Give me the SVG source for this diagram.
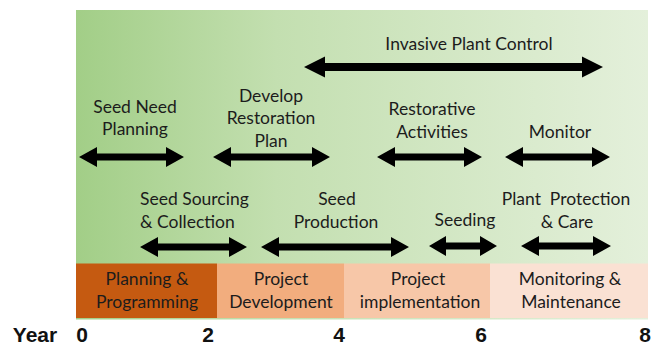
<svg xmlns="http://www.w3.org/2000/svg" width="652" height="347" viewBox="0 0 652 347">
<defs>
<linearGradient id="bg" x1="0" y1="0" x2="1" y2="0">
<stop offset="0" stop-color="#A2CE87"/>
<stop offset="0.35" stop-color="#C3DFB0"/>
<stop offset="1" stop-color="#E4F0DB"/>
</linearGradient>
<style>
.t{font-family:"Lato","Liberation Sans",sans-serif;font-size:17.5px;fill:#1c1c1c;text-anchor:middle}
.y{font-family:"Liberation Sans",Arial,sans-serif;font-size:21px;font-weight:bold;fill:#111;text-anchor:middle}
.a{fill:#000}
</style>
</defs>
<rect width="652" height="347" fill="#fff"/>
<rect id="background" x="76" y="10" width="572" height="309.5" fill="url(#bg)"/>

<g id="phases">
<g id="phase-planning"><rect x="76" y="263.5" width="141" height="54.5" fill="#C55A11"/>
<text class="t" x="147" y="285">Planning &amp;</text><text class="t" x="147" y="308">Programming</text></g>
<g id="phase-development"><rect x="217" y="263.5" width="127" height="54.5" fill="#F2AD7E"/>
<text class="t" x="281" y="285">Project</text><text class="t" x="281" y="308">Development</text></g>
<g id="phase-implementation"><rect x="344" y="263.5" width="146" height="54.5" fill="#F7C7A8"/>
<text class="t" x="418" y="285">Project</text><text class="t" x="420" y="308">implementation</text></g>
<g id="phase-monitoring"><rect x="490" y="263.5" width="158" height="54.5" fill="#FAE1D3"/>
<text class="t" x="570" y="285">Monitoring &amp;</text><text class="t" x="571" y="308">Maintenance</text></g>
</g>

<g id="invasive-plant-control">
<text class="t" x="469" y="50">Invasive Plant Control</text>
</g>
<g id="seed-need-planning">
<text class="t" x="135" y="113">Seed Need</text><text class="t" x="135" y="135">Planning</text>
</g>
<g id="develop-restoration-plan">
<text class="t" x="271" y="102">Develop</text><text class="t" x="271" y="124">Restoration</text><text class="t" x="271" y="147">Plan</text>
</g>
<g id="restorative-activities">
<text class="t" x="432" y="115">Restorative</text><text class="t" x="432" y="138">Activities</text>
</g>
<g id="monitor">
<text class="t" x="560" y="138">Monitor</text>
</g>
<g id="seed-sourcing">
<text class="t" x="140" y="205" style="text-anchor:start">Seed Sourcing</text><text class="t" x="140" y="228" style="text-anchor:start">&amp; Collection</text>
</g>
<g id="seed-production">
<text class="t" x="337" y="205">Seed</text><text class="t" x="336" y="228">Production</text>
</g>
<g id="seeding">
<text class="t" x="465" y="226">Seeding</text>
</g>
<g id="plant-protection">
<text class="t" x="566" y="205" xml:space="preserve">Plant  Protection</text><text class="t" x="567" y="228">&amp; Care</text>
</g>

<g id="connectors">
<path class="a" d="M304 67 L325 56.5 L325 63 L582 63 L582 56.5 L603 67 L582 77.5 L582 71 L325 71 L325 77.5 Z"/>
<path class="a" d="M79 157 L97 147 L97 153.5 L166 153.5 L166 147 L184 157 L166 167 L166 160.5 L97 160.5 L97 167 Z"/>
<path class="a" d="M213 157 L231 147 L231 153.5 L312 153.5 L312 147 L330 157 L312 167 L312 160.5 L231 160.5 L231 167 Z"/>
<path class="a" d="M377 157 L395 147 L395 153.5 L464 153.5 L464 147 L482 157 L464 167 L464 160.5 L395 160.5 L395 167 Z"/>
<path class="a" d="M505 157 L523 147 L523 153.5 L592 153.5 L592 147 L610 157 L592 167 L592 160.5 L523 160.5 L523 167 Z"/>
<path class="a" d="M140 247 L158 237 L158 243.5 L229 243.5 L229 237 L247 247 L229 257 L229 250.5 L158 250.5 L158 257 Z"/>
<path class="a" d="M261 247 L279 237 L279 243.5 L391 243.5 L391 237 L409 247 L391 257 L391 250.5 L279 250.5 L279 257 Z"/>
<path class="a" d="M429 246 L446 236 L446 242.5 L480 242.5 L480 236 L497 246 L480 256 L480 249.5 L446 249.5 L446 256 Z"/>
<path class="a" d="M521 246 L539 236 L539 242.5 L593 242.5 L593 236 L611 246 L593 256 L593 249.5 L539 249.5 L539 256 Z"/>
</g>

<g id="axis">
<text class="y" x="35" y="342">Year</text>
<text class="y" x="82" y="342">0</text>
<text class="y" x="208" y="342">2</text>
<text class="y" x="339" y="342">4</text>
<text class="y" x="481" y="342">6</text>
<text class="y" x="645" y="342">8</text>
</g>
</svg>
